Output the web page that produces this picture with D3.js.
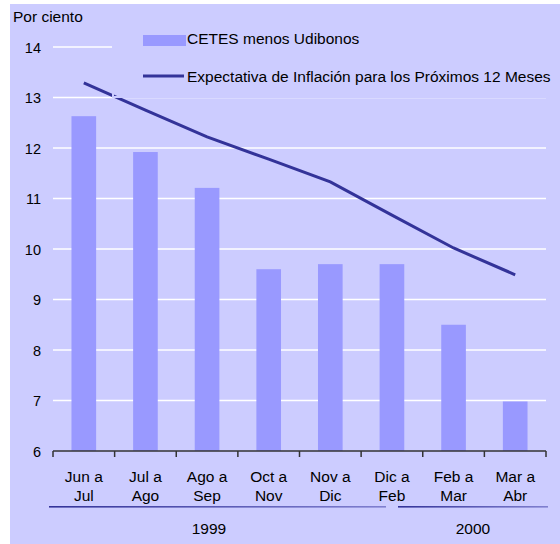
<!DOCTYPE html>
<html lang="es">
<head>
<meta charset="UTF-8"/>
<title>CETES menos Udibonos</title>
<style>
  body { margin: 0; background: #ffffff; }
  svg { display: block; }
  text { font-family: "Liberation Sans", Arial, sans-serif; font-size: 15.5px; fill: #000; }
  text.tick { font-size: 14.5px; }
  .grid line { stroke: #ffffff; stroke-width: 1.5; }
  .bar { fill: #9999ff; }
  .serie { fill: none; stroke: #333399; stroke-width: 3; }
</style>
</head>
<body>
<svg width="560" height="544"></svg>
<script src="https://cdnjs.cloudflare.com/ajax/libs/d3/7.8.5/d3.min.js"></script>
<script>
const periodos = [['Jun a', 'Jul'], ['Jul a', 'Ago'], ['Ago a', 'Sep'], ['Oct a', 'Nov'],
                  ['Nov a', 'Dic'], ['Dic a', 'Feb'], ['Feb a', 'Mar'], ['Mar a', 'Abr']];
const cetesUdibonos = [12.63, 11.92, 11.21, 9.60, 9.70, 9.70, 8.50, 6.98];
const expectativa = [13.29, 12.75, 12.22, 11.78, 11.33, 10.67, 10.02, 9.49];
const yTicks = [6, 7, 8, 9, 10, 11, 12, 13, 14];
const anios = ['1999', '2000'];

const svg = d3.select('svg');
const bg = '#ccccff';

svg.append('rect').attr('x', 10).attr('y', 4).attr('width', 550).attr('height', 540).attr('fill', bg);

const x = d3.scaleBand().domain(d3.range(periodos.length)).range([53, 546]);
const y = d3.scaleLinear().domain([6, 14]).range([451, 47]);

// gridlines
svg.append('g').attr('class', 'grid')
  .selectAll('line').data(yTicks.slice(1)).join('line')
  .attr('x1', 53).attr('x2', 546)
  .attr('y1', d => y(d)).attr('y2', d => y(d));

// y labels
svg.append('g').selectAll('text').data(yTicks).join('text')
  .attr('class', 'tick')
  .attr('x', 41).attr('y', d => y(d) + 5.5)
  .attr('text-anchor', 'end')
  .text(d => d);

svg.append('text').attr('x', 13).attr('y', 22).text('Por ciento');

// legend box covers top gridline
svg.append('rect').attr('x', 113).attr('y', 24).attr('width', 440).attr('height', 73).attr('fill', bg);

// bars
const bw = x.bandwidth() * 0.4;
svg.append('g').selectAll('rect').data(cetesUdibonos).join('rect')
  .attr('class', 'bar')
  .attr('x', (d, i) => x(i) + x.bandwidth() / 2 - bw / 2)
  .attr('width', bw)
  .attr('y', d => y(d))
  .attr('height', d => y(6) - y(d));

// line
const line = d3.line()
  .x((d, i) => x(i) + x.bandwidth() / 2)
  .y(d => y(d));
svg.append('path').datum(expectativa).attr('class', 'serie').attr('d', line);

// legend border leaves a small gap in the line
svg.append('rect').attr('x', 113).attr('y', 24).attr('width', 440).attr('height', 73)
  .attr('fill', 'none').attr('stroke', bg).attr('stroke-width', 2);

svg.append('rect').attr('x', 143).attr('y', 35).attr('width', 43).attr('height', 11).attr('fill', '#9999ff');
svg.append('text').attr('x', 187).attr('y', 44).text('CETES menos Udibonos');
svg.append('line').attr('x1', 143).attr('x2', 184).attr('y1', 76).attr('y2', 76)
  .attr('stroke', '#333399').attr('stroke-width', 3);
svg.append('text').attr('x', 187).attr('y', 82).text('Expectativa de Inflación para los Próximos 12 Meses');

// x axis
const gx = svg.append('g').attr('transform', `translate(0,${y(6)})`);
gx.append('line').attr('x1', x.range()[0]).attr('x2', x.range()[1])
  .attr('stroke', '#333').attr('stroke-width', 1.5);
gx.selectAll('.sep').data(d3.range(periodos.length + 1)).join('line')
  .attr('x1', i => i < periodos.length ? x(i) : x.range()[1])
  .attr('x2', i => i < periodos.length ? x(i) : x.range()[1])
  .attr('y1', 0).attr('y2', 6)
  .attr('stroke', '#333').attr('stroke-width', 1.5);

const lbl = svg.append('g').selectAll('text').data(periodos).join('text')
  .attr('text-anchor', 'middle')
  .attr('transform', (d, i) => `translate(${x(i) + x.bandwidth() / 2},482)`);
lbl.append('tspan').attr('x', 0).attr('y', 0).text(d => d[0]);
lbl.append('tspan').attr('x', 0).attr('y', 19).text(d => d[1]);

// year groups
const defs = svg.append('defs');
const grad = defs.append('linearGradient').attr('id', 'yearGrad');
grad.append('stop').attr('offset', '0%').attr('stop-color', '#333399');
grad.append('stop').attr('offset', '100%').attr('stop-color', '#8080d0');

const yearEdges = [[49, 386], [398, 548]];
const yearCenters = [209, 473];
svg.append('g').selectAll('rect').data(anios).join('rect')
  .attr('x', (d, i) => yearEdges[i][0])
  .attr('width', (d, i) => yearEdges[i][1] - yearEdges[i][0])
  .attr('y', 506).attr('height', 1.6)
  .attr('fill', 'url(#yearGrad)');

svg.append('g').selectAll('text').data(anios).join('text')
  .attr('text-anchor', 'middle')
  .attr('x', (d, i) => yearCenters[i])
  .attr('y', 534)
  .text(d => d);
</script>
</body>
</html>
